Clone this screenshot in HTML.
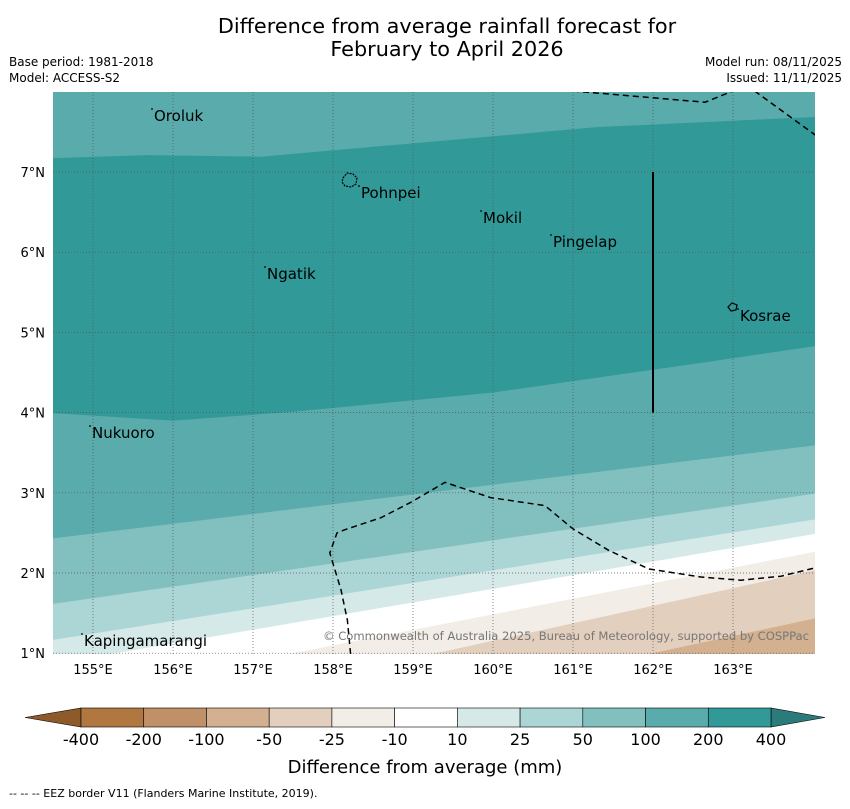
<!DOCTYPE html>
<html><head><meta charset="utf-8"><style>
body{margin:0;background:#fff;font-family:"Liberation Sans","DejaVu Sans",sans-serif}
svg text{font-family:"DejaVu Sans","Liberation Sans",sans-serif}
</style></head><body>
<svg width="850" height="804" viewBox="0 0 850 804" xmlns="http://www.w3.org/2000/svg">
<text x="447" y="33" font-size="20.8" text-anchor="middle">Difference from average rainfall forecast for</text>
<text x="447" y="56" font-size="20.8" text-anchor="middle">February to April 2026</text>
<text x="9" y="66" font-size="12">Base period: 1981-2018</text>
<text x="9" y="82" font-size="12">Model: ACCESS-S2</text>
<text x="842" y="66" font-size="12" text-anchor="end">Model run: 08/11/2025</text>
<text x="842" y="82" font-size="12" text-anchor="end">Issued: 11/11/2025</text>
<defs><clipPath id="mapclip"><rect x="53" y="92" width="762" height="562"/></clipPath></defs>
<g id="map" clip-path="url(#mapclip)"></g>
<g id="axes"></g>
<g id="cbar"></g>
<text x="425" y="773" font-size="18" text-anchor="middle">Difference from average (mm)</text>
<text x="9" y="797" font-size="11">--  --  -- EEZ border V11 (Flanders Marine Institute, 2019).</text>
</svg>
<script>
// ---- data ----
const lonTicks=[155,156,157,158,159,160,161,162,163];
const latTicks=[1,2,3,4,5,6,7];
const cbarLabels=["-400","-200","-100","-50","-25","-10","10","25","50","100","200","400"];
const cbarColors=["#b07840","#c09068","#d3b190","#e3cfbd","#f2ede6","#ffffff","#d6e9e9","#acd5d5","#82c0c0","#5aabab","#319998"];
// contour boundaries as [lon,lat]
const bTopDark=[[154.4,7.17],[155.7,7.21],[157.1,7.19],[158.8,7.34],[161.3,7.56],[164.1,7.69]];
const bBotDark=[[154.4,4.0],[156.0,3.9],[157.5,4.01],[160.0,4.25],[162.6,4.62],[164.1,4.84]];
const b100=[[154.4,2.42],[164.1,3.6]];
const b50=[[154.4,1.6],[164.1,3.0]];
const b25=[[154.4,1.15],[164.1,2.68]];
const b10=[[154.4,0.85],[164.1,2.5]];
const bm10=[[157.4,0.98],[164.1,2.28]];
const bm25=[[159.2,0.98],[164.1,2.05]];
const bm50=[[161.9,0.98],[164.1,1.45]];
const eezTop1=[[161.0,8.01],[162.65,7.87],[163.0,8.01]];
const eezTop2=[[163.27,8.01],[164.03,7.46]];
const eezBot=[[158.22,0.99],[158.18,1.41],[158.1,1.79],[157.96,2.25],[158.05,2.5],[158.15,2.54],[158.6,2.69],[158.97,2.88],[159.4,3.13],[159.97,2.94],[160.65,2.84],[161.0,2.55],[161.45,2.28],[161.95,2.05],[162.6,1.95],[163.1,1.91],[163.6,1.96],[164.05,2.07]];
const islands=[["Oroluk",155.75,7.65,154,121],["Pohnpei",158.2,6.87,361,198],["Mokil",159.85,6.5,483,223],["Pingelap",160.7,6.22,553,247],["Ngatik",157.15,5.83,267,279],["Kosrae",162.97,5.31,740,321],["Nukuoro",154.97,3.85,92,438],["Kapingamarangi",154.87,1.08,84,646]];
// ---- axes ----
const X=lon=>93+(lon-155)*80;
const Y=lat=>172+(7-lat)*80.2;
const NS='http://www.w3.org/2000/svg';
function mk(tag,attrs,parent){const e=document.createElementNS(NS,tag);for(const k in attrs)e.setAttribute(k,attrs[k]);parent.appendChild(e);return e;}
const map=document.getElementById('map'),axes=document.getElementById('axes'),cb=document.getElementById('cbar');
const pts=b=>b.map(p=>X(p[0])+','+Y(p[1])).join(' ');
function below(b,color,name){
  const s=pts(b)+' '+X(b[b.length-1][0])+',700 '+X(b[0][0])+',700';
  const e=mk('polygon',{points:s,fill:color},map);
  
  
}
let bg=mk('rect',{x:53,y:92,width:762,height:562,fill:cbarColors[9]},map);


let dark=mk('polygon',{points:pts(bTopDark)+' '+pts(bBotDark.slice().reverse()),fill:cbarColors[10]},map);


below(b100,cbarColors[8],'band-50-100');
below(b50,cbarColors[7],'band-25-50');
below(b25,cbarColors[6],'band-10-25');
below(b10,cbarColors[5],'band-neutral');
below(bm10,cbarColors[4],'band-minus10-minus25');
below(bm25,cbarColors[3],'band-minus25-minus50');
below(bm50,cbarColors[2],'band-minus50-minus100');
// grid
lonTicks.forEach(l=>{
  const g=mk('line',{x1:X(l),x2:X(l),y1:92,y2:654,stroke:'#555','stroke-width':0.7,'stroke-dasharray':'1,2'},map);
  
  
  const t=mk('text',{x:X(l),y:674,'font-size':13,'text-anchor':'middle'},axes);t.textContent=l+'°E';
  
  
});
latTicks.forEach(l=>{
  const g=mk('line',{x1:53,x2:815,y1:Y(l),y2:Y(l),stroke:'#555','stroke-width':0.7,'stroke-dasharray':'1,2'},map);
  
  
  const t=mk('text',{x:45,y:Y(l)+5,'font-size':13,'text-anchor':'end'},axes);t.textContent=l+'°N';
  
  
});
// EEZ
[eezTop1,eezTop2,eezBot].forEach(b=>{
  const e=mk('polyline',{points:pts(b),fill:'none',stroke:'#000','stroke-width':1.5,'stroke-dasharray':'6,4'},map);
  
  
});
const vl=mk('line',{x1:X(162),x2:X(162),y1:Y(7),y2:Y(4),stroke:'#000','stroke-width':2},map);


// island shapes
const ip=mk('path',{d:'M343,178 l4,-5 l6,1 l4,4 l-1,6 l-5,3 l-6,-1 l-3,-4z',fill:'none',stroke:'#000','stroke-width':1.2,'stroke-dasharray':'2,1'},map);


const ik=mk('path',{d:'M728,307 l4,-4 l5,2 l-1,5 l-5,1z',fill:'none',stroke:'#000','stroke-width':1.2},map);


islands.forEach(d=>{
  const t=mk('text',{x:d[3],y:d[4],'font-size':15},map);t.textContent=d[0];
  
  
  const m=mk('circle',{cx:d[3]-2,cy:d[4]-12,r:0.9,fill:'#000'},map);
  
  
});
const cr=mk('text',{x:809,y:640,'font-size':11.6,'text-anchor':'end',fill:'#777','textLength':486},map);
cr.textContent='© Commonwealth of Australia 2025, Bureau of Meteorology, supported by COSPPac';


const fr=mk('rect',{x:53,y:92,width:762,height:562,fill:'none',stroke:'none'},axes);


// colorbar
const cx0=81,cw=690/cbarColors.length,cy=708,ch=19;
const lt=mk('polygon',{points:`25,${cy+ch/2} ${cx0},${cy} ${cx0},${cy+ch}`,fill:'#8e5a2a',stroke:'#000','stroke-width':0.6},cb);


const rt=mk('polygon',{points:`825,${cy+ch/2} ${cx0+690},${cy} ${cx0+690},${cy+ch}`,fill:'#2c7b7b',stroke:'#000','stroke-width':0.6},cb);


cbarColors.forEach((c,i)=>{
  const r=mk('rect',{x:cx0+i*cw,y:cy,width:cw,height:ch,fill:c,stroke:'#000','stroke-width':0.6},cb);
  
  
});
cbarLabels.forEach((s,i)=>{
  const t=mk('text',{x:cx0+i*cw,y:745,'font-size':16,'text-anchor':'middle'},cb);t.textContent=s;
  
  
});
</script>
</body></html>
